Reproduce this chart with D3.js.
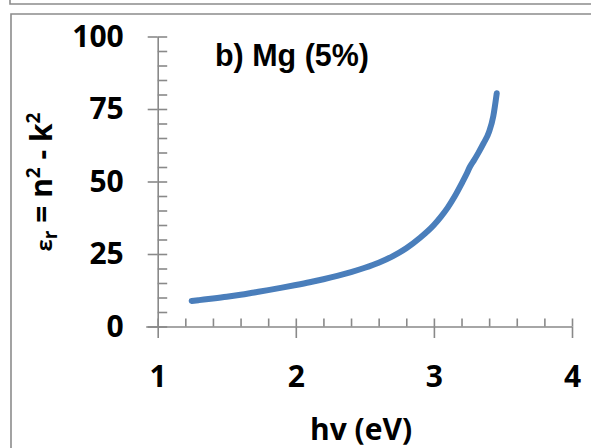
<!DOCTYPE html>
<html>
<head>
<meta charset="utf-8">
<script src="https://cdn.jsdelivr.net/npm/d3@7"></script>
<style>
  html, body { margin: 0; padding: 0; background: #fff; }
  svg { display: block; }
  .tick text { font-family: "Open Sans", "DejaVu Sans", sans-serif; font-weight: 700; fill: #000; }
</style>
</head>
<body>
<svg id="chart" width="591" height="448"></svg>
<script>
// Photon energy (eV) and real part of the dielectric constant
const hv  = [1.246, 1.30, 1.40, 1.50, 1.60, 1.70, 1.80, 1.90, 2.00, 2.10, 2.20, 2.30, 2.40, 2.50,
             2.60, 2.70, 2.80, 2.90, 3.00, 3.05, 3.10, 3.15, 3.20, 3.24, 3.26, 3.275, 3.29,
             3.32, 3.36, 3.40, 3.43, 3.455];
const epsR = [8.8, 9.1, 9.65, 10.25, 10.95, 11.75, 12.55, 13.4, 14.3, 15.25, 16.3, 17.45, 18.75, 20.25,
              22.0, 24.2, 27.0, 30.6, 35.0, 37.8, 41.0, 44.8, 49.2, 52.9, 55.0, 56.2, 57.3,
              59.7, 63.2, 67.2, 72.5, 80.4];

const xMajor = [1, 2, 3, 4];
const xMinor = d3.range(1, 4.0001, 0.2).map(v => +v.toFixed(1));
const yMajor = [0, 25, 50, 75, 100];
const yMinor = d3.range(0, 100.001, 5);

const titleText = "b) Mg (5%)";
const xTitle = "hv (eV)";

const svg = d3.select("#chart");
const axisColor = "#898989";

// frame lines
svg.append("path")
  .attr("d", "M10,0 V4 H591")
  .attr("fill", "none").attr("stroke", "#8c8c8c").attr("stroke-width", 1.6);
svg.append("path")
  .attr("d", "M11,448 V14 H591")
  .attr("fill", "none").attr("stroke", "#8c8c8c").attr("stroke-width", 1.6);

const x = d3.scaleLinear().domain([1, 4]).range([157.7, 572]);
const y = d3.scaleLinear().domain([0, 100]).range([326.5, 36.5]);

// y axis: major ticks outside with labels, all ticks inside
const yOut = svg.append("g").attr("transform", `translate(${x(1)},0)`)
  .call(d3.axisLeft(y).tickValues(yMajor).tickSizeInner(10).tickSizeOuter(0).tickPadding(24));
const yIn = svg.append("g").attr("transform", `translate(${x(1)},0)`)
  .call(d3.axisRight(y).tickValues(yMinor).tickSize(9.5).tickFormat(""));
yIn.select(".domain").remove();

// x axis: major ticks outside with labels, all ticks inside
const xOut = svg.append("g").attr("transform", `translate(0,${y(0)})`)
  .call(d3.axisBottom(x).tickValues(xMajor).tickSizeInner(11.5).tickSizeOuter(0).tickPadding(27)
    .tickFormat(d3.format("d")));
const xIn = svg.append("g").attr("transform", `translate(0,${y(0)})`)
  .call(d3.axisTop(x).tickValues(xMinor).tickSize(8).tickFormat(""));
xIn.select(".domain").remove();

// extend x axis line to the left end of the major y tick
xOut.select(".domain").attr("d", `M${x(1) - 11.5},0.5H${x(4)}`);

svg.selectAll(".domain, .tick line")
  .attr("stroke", axisColor).attr("stroke-width", 1.6);
svg.selectAll(".tick text").attr("font-size", 30);
xOut.selectAll(".tick text").attr("dy", "0.72em");

// data curve
const line = d3.line()
  .x((d, i) => x(hv[i]))
  .y(d => y(d))
  .curve(d3.curveMonotoneX);
svg.append("path")
  .datum(epsR)
  .attr("d", line)
  .attr("fill", "none")
  .attr("stroke", "#4a7ebb")
  .attr("stroke-width", 6)
  .attr("stroke-linecap", "round")
  .attr("stroke-linejoin", "round");

// panel title
svg.append("text")
  .attr("x", 215).attr("y", 66)
  .attr("font-family", "'Liberation Sans', Arial, sans-serif")
  .attr("font-weight", 700).attr("font-size", 31)
  .attr("textLength", 154).attr("lengthAdjust", "spacingAndGlyphs")
  .text(titleText);

// x axis title
svg.append("text")
  .attr("x", 361).attr("y", 440)
  .attr("text-anchor", "middle")
  .attr("font-family", "'Open Sans', sans-serif")
  .attr("font-weight", 700).attr("font-size", 30)
  .text(xTitle);

// y axis title: εr = n² - k²
const yt = svg.append("text")
  .attr("transform", "translate(52,182) rotate(-90)")
  .attr("text-anchor", "middle")
  .attr("font-family", "'Open Sans', sans-serif")
  .attr("font-weight", 700).attr("font-size", 30);
yt.append("tspan").attr("font-size", 22).text("ε");
yt.append("tspan").attr("font-size", 19).attr("dy", 5).text("r");
yt.append("tspan").attr("dy", -5).text(" = n");
yt.append("tspan").attr("font-size", 19).attr("dy", -12).text("2");
yt.append("tspan").attr("dy", 12).text(" - k");
yt.append("tspan").attr("font-size", 19).attr("dy", -12).text("2");
</script>
</body>
</html>
